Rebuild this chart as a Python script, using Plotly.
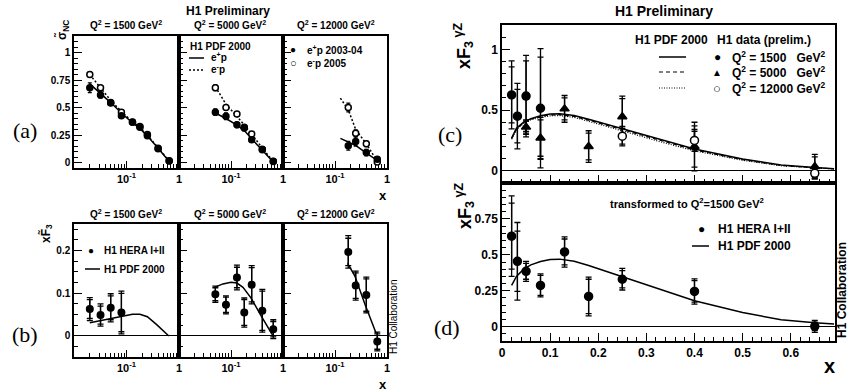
import plotly.graph_objects as go

W, H = 848, 392

# ---------------- data: panel (a) reduced cross sections ----------------
a1_x = [0.02, 0.032, 0.05, 0.08, 0.13, 0.18, 0.25, 0.4, 0.65]
a1_ep = [0.68, 0.615, 0.54, 0.425, 0.365, 0.32, 0.243, 0.125, 0.013]
a1_ep_err = [0.045, 0.03, 0.02, 0.02, 0.015, 0.015, 0.015, 0.012, 0.01]
a1_em = [0.80, 0.68, 0.545, 0.458, 0.368, 0.328, 0.255, 0.13, 0.015]
a1_em_err = [0.025, 0.02, 0.02, 0.02, 0.015, 0.015, 0.015, 0.012, 0.01]
a1_fit_ep = [0.715, 0.63, 0.545, 0.45, 0.36, 0.31, 0.24, 0.13, 0.01]
a1_fit_em = [0.80, 0.68, 0.565, 0.465, 0.37, 0.325, 0.25, 0.135, 0.012]

a2_x = [0.05, 0.08, 0.13, 0.18, 0.25, 0.4, 0.65]
a2_ep = [0.458, 0.42, 0.343, 0.313, 0.206, 0.115, 0.01]
a2_ep_err = [0.03, 0.03, 0.025, 0.025, 0.02, 0.015, 0.01]
a2_em = [0.68, 0.50, 0.44, 0.32, 0.26, 0.12, 0.012]
a2_em_err = [0.025, 0.025, 0.02, 0.02, 0.02, 0.015, 0.01]
a2_fit_ep = [0.45, 0.40, 0.34, 0.29, 0.215, 0.115, 0.005]
a2_fit_em = [0.69, 0.53, 0.42, 0.34, 0.26, 0.13, 0.01]

a3_x = [0.18, 0.25, 0.4, 0.65]
a3_ep = [0.152, 0.19, 0.09, 0.03]
a3_ep_err = [0.04, 0.04, 0.03, 0.02]
a3_em = [0.50, 0.267, 0.17, 0.004]
a3_em_err = [0.04, 0.03, 0.025, 0.015]
a3_fit_x = [0.127, 0.18, 0.25, 0.4, 0.65]
a3_fit_ep = [0.22, 0.19, 0.155, 0.085, 0.02]
a3_fit_em = [0.585, 0.48, 0.30, 0.17, 0.01]

# ---------------- data: panel (b) xF3 tilde ----------------
b1_x = [0.02, 0.032, 0.05, 0.08]
b1_y = [0.063, 0.049, 0.066, 0.055]
b1_tot = [0.027, 0.026, 0.033, 0.05]
b1_stat = [0.022, 0.021, 0.028, 0.045]
b1_fit_x = [0.02, 0.032, 0.05, 0.08, 0.13, 0.18, 0.25, 0.38, 0.64]
b1_fit_y = [0.031, 0.036, 0.042, 0.047, 0.051, 0.051, 0.045, 0.026, 0.0]

b2_x = [0.05, 0.08, 0.13, 0.18, 0.25, 0.4, 0.65]
b2_y = [0.098, 0.073, 0.137, 0.055, 0.12, 0.059, 0.016]
b2_tot = [0.019, 0.021, 0.029, 0.034, 0.045, 0.05, 0.022]
b2_stat = [0.015, 0.018, 0.024, 0.03, 0.04, 0.046, 0.018]
b2_fit_x = [0.048, 0.07, 0.1, 0.13, 0.17, 0.24, 0.38, 0.63]
b2_fit_y = [0.114, 0.122, 0.126, 0.124, 0.114, 0.09, 0.047, 0.002]

b3_x = [0.18, 0.25, 0.4, 0.65]
b3_y = [0.197, 0.118, 0.096, -0.013]
b3_tot = [0.038, 0.034, 0.042, 0.022]
b3_stat = [0.032, 0.03, 0.038, 0.018]
b3_fit_x = [0.175, 0.24, 0.38, 0.62]
b3_fit_y = [0.17, 0.141, 0.073, 0.006]

# ---------------- data: panel (c) xF3 gammaZ per Q2 ----------------
c1500_x = [0.02, 0.032, 0.05, 0.08]
c1500_y = [0.625, 0.45, 0.615, 0.515]
c1500_tot = [0.28, 0.27, 0.335, 0.49]
c1500_stat = [0.23, 0.22, 0.29, 0.42]

c5000_x = [0.05, 0.08, 0.13, 0.18, 0.25, 0.4, 0.65]
c5000_y = [0.36, 0.27, 0.51, 0.20, 0.445, 0.20, 0.035]
c5000_tot = [0.06, 0.17, 0.11, 0.13, 0.17, 0.2, 0.10]
c5000_stat = [0.05, 0.15, 0.09, 0.11, 0.15, 0.17, 0.08]

c12000_x = [0.25, 0.4, 0.65]
c12000_y = [0.285, 0.25, -0.02]
c12000_tot = [0.08, 0.09, 0.045]
c12000_stat = [0.065, 0.075, 0.035]

c_fit_x = [0.02, 0.03, 0.045, 0.06, 0.08, 0.1, 0.12, 0.15, 0.18, 0.25, 0.33, 0.4, 0.5, 0.58, 0.65, 0.69]
c_fit_1500 = [0.27, 0.35, 0.40, 0.43, 0.453, 0.468, 0.47, 0.455, 0.425, 0.348, 0.258, 0.18, 0.098, 0.048, 0.027, 0.018]
c_fit_5000 = [0.265, 0.345, 0.395, 0.425, 0.447, 0.46, 0.462, 0.447, 0.417, 0.338, 0.248, 0.172, 0.092, 0.045, 0.025, 0.017]
c_fit_12000 = [0.26, 0.34, 0.39, 0.42, 0.44, 0.453, 0.455, 0.44, 0.408, 0.328, 0.238, 0.165, 0.087, 0.042, 0.023, 0.016]

# ---------------- data: panel (d) combined at Q2=1500 ----------------
d_x = [0.02, 0.032, 0.05, 0.08, 0.13, 0.18, 0.25, 0.4, 0.65]
d_y = [0.63, 0.455, 0.385, 0.287, 0.52, 0.21, 0.33, 0.245, 0.002]
d_tot = [0.28, 0.27, 0.07, 0.08, 0.105, 0.135, 0.075, 0.088, 0.042]
d_stat = [0.23, 0.21, 0.055, 0.07, 0.09, 0.12, 0.06, 0.075, 0.03]
d_fit_x = [0.02, 0.03, 0.045, 0.06, 0.08, 0.1, 0.12, 0.15, 0.18, 0.25, 0.33, 0.4, 0.5, 0.58, 0.65, 0.69]
d_fit_y = [0.287, 0.35, 0.40, 0.43, 0.453, 0.468, 0.47, 0.455, 0.425, 0.348, 0.258, 0.18, 0.098, 0.048, 0.027, 0.018]

# tick labels
log_tickvals = [0.1, 1]
log_ticktext = ["10<sup>-1</sup>", "1"]
log_minor = [0.02, 0.03, 0.04, 0.05, 0.06, 0.07, 0.08, 0.09, 0.2, 0.3, 0.4, 0.5, 0.6, 0.7, 0.8, 0.9]
a_ytick = [0, 0.25, 0.5, 0.75, 1]
a_ytext = ["0", "0.25", "0.5", "0.75", "1"]
b_ytick = [0, 0.1, 0.2]
b_ytext = ["0", "0.1", "0.2"]
c_ytick = [0, 0.5, 1]
c_ytext = ["0", "0.5", "1"]
d_ytick = [0, 0.25, 0.5, 0.75]
d_ytext = ["0", "0.25", "0.5", "0.75"]

FONT = "Liberation Sans"
DOT = "2px,2px"
DASH = "4px,3px"


def px(x):
    return x / W


def py(y):
    return 1 - y / H


fig = go.Figure()
layout = dict(width=W, height=H, margin=dict(l=0, r=0, t=0, b=0, autoexpand=False),
              paper_bgcolor="white", plot_bgcolor="white", showlegend=False,
              font=dict(family=FONT, size=10, color="black", weight="bold"))


def xlog(dom, y):
    return dict(type="log", range=[-2, 0], domain=[px(dom[0]), px(dom[1])], anchor=y,
                tickmode="array", tickvals=log_tickvals, ticktext=log_ticktext,
                ticks="inside", ticklen=7, tickwidth=1, tickcolor="black",
                minor=dict(tickmode="array", tickvals=log_minor, ticks="inside", ticklen=4, tickcolor="black"),
                showline=True, mirror=True, linecolor="black", linewidth=1.5, automargin=False,
                ticklabeloverflow="allow",
                showgrid=False, zeroline=False, tickfont=dict(size=11))


def ylin(dom, rng, x, tv, tt, mdtick, labels, zero, size=10):
    return dict(range=rng, domain=[py(dom[1]), py(dom[0])], anchor=x,
                tickmode="array", tickvals=tv, ticktext=tt,
                ticks="inside", ticklen=8, tickwidth=1, tickcolor="black",
                minor=dict(dtick=mdtick, tick0=0, ticks="inside", ticklen=4, tickcolor="black"),
                showticklabels=labels, showline=True, mirror=True, linecolor="black", linewidth=1.5,
                automargin=False, ticklabeloverflow="allow",
                showgrid=False, zeroline=zero, zerolinecolor="black", zerolinewidth=1,
                tickfont=dict(size=size))


cols = [(74, 179), (179, 283), (283, 387)]
a_y = (35.5, 168)
b_y = (223.5, 356.7)
for i, c in enumerate(cols):
    n = i + 1
    s = "" if n == 1 else str(n)
    layout["xaxis" + s] = xlog(c, "y" + s)
    layout["yaxis" + s] = ylin(a_y, [-0.05, 1.155], "x" + s, a_ytick, a_ytext, 0.05, i == 0, False)
    m = str(i + 4)
    layout["xaxis" + m] = xlog(c, "y" + m)
    layout["yaxis" + m] = ylin(b_y, [-0.0485, 0.2635], "x" + m, b_ytick, b_ytext, 0.025, i == 0, True)

layout["xaxis7"] = dict(range=[0, 0.692], domain=[px(502), px(835)], anchor="y7", dtick=0.1, tick0=0,
                        ticks="inside", ticklen=8, tickcolor="black",
                        minor=dict(dtick=0.02, tick0=0, ticks="inside", ticklen=4, tickcolor="black"),
                        showticklabels=False, showline=True, mirror=True, linecolor="black", linewidth=1.5,
                        showgrid=False, zeroline=False, automargin=False)
layout["yaxis7"] = ylin((25, 183), [-0.1, 1.2], "x7", c_ytick, c_ytext, 0.1, True, True, size=12)
layout["xaxis8"] = dict(range=[0, 0.692], domain=[px(502), px(835)], anchor="y8", dtick=0.1, tick0=0,
                        ticks="inside", ticklen=8, tickcolor="black",
                        minor=dict(dtick=0.02, tick0=0, ticks="inside", ticklen=4, tickcolor="black"),
                        showline=True, mirror=True, linecolor="black", linewidth=1.5, automargin=False,
                        ticklabeloverflow="allow",
                        showgrid=False, zeroline=False, tickfont=dict(size=12))
layout["yaxis8"] = ylin((183, 341), [-0.1, 1.0], "x8", d_ytick, d_ytext, 0.05, True, True, size=12)


def ax(n):
    s = "" if n == 1 else str(n)
    return "x" + s, "y" + s


def line(n, x, y, dash="solid", w=1.5):
    xa, ya = ax(n)
    fig.add_trace(go.Scatter(x=x, y=y, mode="lines", xaxis=xa, yaxis=ya,
                             line=dict(color="black", width=w, dash=dash), hoverinfo="skip"))


def points(n, x, y, tot, stat=None, symbol="circle", open_=False, size=7):
    xa, ya = ax(n)
    if stat is not None:
        fig.add_trace(go.Scatter(x=x, y=y, mode="markers", xaxis=xa, yaxis=ya,
                                 marker=dict(size=1, color="rgba(0,0,0,0)"),
                                 error_y=dict(type="data", array=stat, width=3, thickness=1.3, color="black")))
    fig.add_trace(go.Scatter(x=x, y=y, mode="markers", xaxis=xa, yaxis=ya,
                             marker=dict(size=size, symbol=symbol, color="white" if open_ else "black",
                                         line=dict(color="black", width=1.5)),
                             error_y=dict(type="data", array=tot, width=3 if stat is not None else 2,
                                          thickness=1.3, color="black")))


# panel (a)
line(1, a1_x, a1_fit_ep)
line(1, a1_x, a1_fit_em, dash=DOT)
points(1, a1_x, a1_em, a1_em_err, open_=True, size=6)
points(1, a1_x, a1_ep, a1_ep_err, size=6)
line(2, a2_x, a2_fit_ep)
line(2, a2_x, a2_fit_em, dash=DOT)
points(2, a2_x, a2_em, a2_em_err, open_=True, size=6)
points(2, a2_x, a2_ep, a2_ep_err, size=6)
line(3, a3_fit_x, a3_fit_ep)
line(3, a3_fit_x, a3_fit_em, dash=DOT)
points(3, a3_x, a3_em, a3_em_err, open_=True, size=6)
points(3, a3_x, a3_ep, a3_ep_err, size=6)

# panel (b)
line(4, b1_fit_x, b1_fit_y)
points(4, b1_x, b1_y, b1_tot, b1_stat, size=6.5)
line(5, b2_fit_x, b2_fit_y)
points(5, b2_x, b2_y, b2_tot, b2_stat, size=6.5)
line(6, b3_fit_x, b3_fit_y)
points(6, b3_x, b3_y, b3_tot, b3_stat, size=6.5)

# panel (c)
line(7, c_fit_x, c_fit_1500)
line(7, c_fit_x, c_fit_5000, dash=DASH, w=1.2)
line(7, c_fit_x, c_fit_12000, dash="1px,1.5px", w=1.2)
points(7, c1500_x, c1500_y, c1500_tot, c1500_stat, size=8)
points(7, c5000_x, c5000_y, c5000_tot, c5000_stat, symbol="triangle-up", size=8)
points(7, c12000_x, c12000_y, c12000_tot, c12000_stat, open_=True, size=8)

# panel (d)
line(8, d_fit_x, d_fit_y)
points(8, d_x, d_y, d_tot, d_stat, size=8)

ann = []
shapes = []


def text(x, y, s, size=10, bold=True, family=FONT, angle=0, xanchor="center"):
    ann.append(dict(x=px(x), y=py(y), xref="paper", yref="paper", text=s, showarrow=False,
                    xanchor=xanchor, yanchor="middle", textangle=angle,
                    font=dict(size=size, family=family, color="black", weight="bold" if bold else "normal")))


def seg(x0, x1, y, dash="solid", w=1.5):
    shapes.append(dict(type="line", xref="paper", yref="paper", x0=px(x0), x1=px(x1), y0=py(y), y1=py(y),
                       line=dict(color="black", width=w, dash=dash)))


# titles
text(228, 11, "H1 Preliminary", size=12)
text(664, 11, "H1 Preliminary", size=14)
q2 = ["Q<sup>2</sup> = 1500 GeV<sup>2</sup>", "Q<sup>2</sup> = 5000 GeV<sup>2</sup>", "Q<sup>2</sup> = 12000 GeV<sup>2</sup>"]
for xc, s in zip([126, 230, 336], q2):
    text(xc, 25, s, size=10)
    text(xc, 214, s, size=10)

# axis titles
text(62, 30, "σ̃<sub>NC</sub>", size=12, angle=-90)
text(46, 234, "xF̃<sub>3</sub>", size=12, angle=-90)
text(464, 46, "xF<sub>3</sub><sup> γZ</sup>", size=18, angle=-90)
text(464, 206, "xF<sub>3</sub><sup> γZ</sup>", size=18, angle=-90)
text(383, 195, "x", size=13)
text(383, 384, "x", size=13)
text(829, 366, "x", size=20)

# panel letters
for (xx, yy, s) in [(25, 131, "(a)"), (25, 334, "(b)"), (450, 134, "(c)"), (447, 327, "(d)")]:
    text(xx, yy, s, size=22, bold=False, family="Liberation Serif")

text(393, 317, "H1 Collaboration", size=10, bold=False, angle=-90)
text(842, 290, "H1 Collaboration", size=12, angle=-90)

# legend (a)
text(188, 46.5, "H1 PDF 2000", size=10, xanchor="left")
seg(189, 204, 58)
text(209, 57, "e<sup>+</sup>p", size=10, xanchor="left")
seg(189, 204, 70, dash=DOT)
text(209, 69, "e<sup>-</sup>p", size=10, xanchor="left")
text(293, 50, "●", size=10)
text(305, 50, "e<sup>+</sup>p 2003-04", size=10, xanchor="left")
text(293, 63, "○", size=11)
text(305, 63, "e<sup>-</sup>p 2005", size=10, xanchor="left")

# legend (b)
text(91, 250, "●", size=10)
text(102, 250, "H1 HERA I+II", size=10, xanchor="left")
seg(85, 100, 269)
text(102, 269, "H1 PDF 2000", size=10, xanchor="left")

# legend (c)
text(671, 40, "H1 PDF 2000", size=12)
text(764, 40, "H1 data (prelim.)", size=12)
seg(659, 686, 57)
seg(659, 686, 72, dash=DASH, w=1.2)
seg(659, 686, 88, dash="1px,1.5px", w=1.2)
text(717, 57, "●", size=12)
text(717, 72, "▲", size=10)
text(717, 88, "○", size=13)
text(730, 57, "Q<sup>2</sup> = 1500   GeV<sup>2</sup>", size=12, xanchor="left")
text(730, 72, "Q<sup>2</sup> = 5000   GeV<sup>2</sup>", size=12, xanchor="left")
text(730, 88, "Q<sup>2</sup> = 12000 GeV<sup>2</sup>", size=12, xanchor="left")

# legend (d)
text(687, 203, "transformed to Q<sup>2</sup>=1500 GeV<sup>2</sup>", size=11)
text(701, 229, "●", size=12)
text(716, 229, "H1 HERA I+II", size=12, xanchor="left")
seg(692, 709, 246)
text(716, 246, "H1 PDF 2000", size=12, xanchor="left")

layout["annotations"] = ann
layout["shapes"] = shapes
fig.update_layout(**layout)
fig.write_html("out.html", config={"displayModeBar": False},
               post_script="document.body.style.margin='0';document.body.style.padding='0';")
